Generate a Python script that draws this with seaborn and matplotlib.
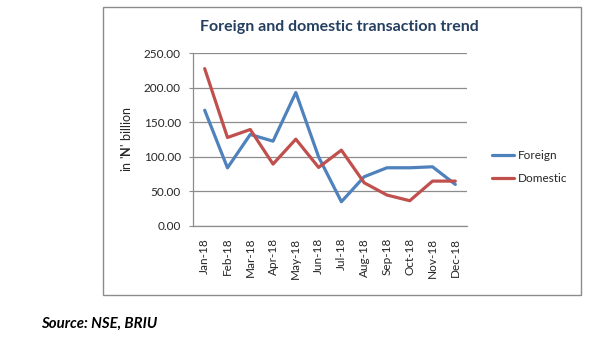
import matplotlib
matplotlib.use("Agg")
import matplotlib.pyplot as plt
import matplotlib.patches as patches
import seaborn as sns
import pandas as pd

months = ['Jan-18', 'Feb-18', 'Mar-18', 'Apr-18', 'May-18', 'Jun-18',
          'Jul-18', 'Aug-18', 'Sep-18', 'Oct-18', 'Nov-18', 'Dec-18']
foreign = [167.6, 84.2, 132.5, 122.8, 193.2, 100.0, 35.1, 71.3, 84.3, 84.3, 85.7, 60.2]
domestic = [227.8, 128.1, 139.7, 89.6, 125.7, 84.8, 109.8, 62.6, 44.8, 36.6, 65.0, 65.0]
series = ['Foreign', 'Domestic']
colors = ['#4F81BD', '#C0504D']
yticks = [0, 50, 100, 150, 200, 250]

sns.set_theme(style="white")
plt.rcParams['font.family'] = ['Lato', 'DejaVu Sans']
plt.rcParams['mathtext.fontset'] = 'custom'
plt.rcParams['mathtext.rm'] = 'Lato'
plt.rcParams['mathtext.bf'] = 'Lato:bold'

df = pd.DataFrame({
    'Month': months * 2,
    'Value': foreign + domestic,
    'Series': [series[0]] * len(months) + [series[1]] * len(months),
})

W, H = 594, 338
fig = plt.figure(figsize=(W / 100, H / 100), dpi=100)
fig.patch.set_facecolor('white')

# outer chart border
fig.patches.append(patches.Rectangle((103 / W, 1 - 295 / H), (581 - 103) / W, (295 - 7) / H,
                                     transform=fig.transFigure, fill=False,
                                     edgecolor='#8C8C8C', linewidth=1.0))

left, right, top, bottom = 193.3, 466.7, 53.3, 226.0
ax = fig.add_axes([left / W, 1 - bottom / H, (right - left) / W, (bottom - top) / H])

sns.lineplot(data=df, x='Month', y='Value', hue='Series', palette=colors,
             linewidth=2.3, ax=ax, sort=False, legend=True)

ax.set_xlim(-0.5, len(months) - 0.5)
ax.set_ylim(0, 250)
ax.set_yticks(yticks)
ax.set_yticklabels([f"{v:.2f}" for v in yticks], fontsize=8.5)
ax.set_xticks(range(len(months)))
ax.set_xticklabels(months, rotation=90, fontsize=8.5)
ax.tick_params(axis='x', length=0, pad=8.5)
ax.tick_params(axis='y', length=3, width=0.8, color='#8C8C8C', pad=6, left=True)
ax.grid(axis='y', color='#8C8C8C', linewidth=0.9)
ax.set_axisbelow(True)
for s in ['top', 'right']:
    ax.spines[s].set_visible(False)
for s in ['left', 'bottom']:
    ax.spines[s].set_color('#8C8C8C')
    ax.spines[s].set_linewidth(0.9)
ax.set_xlabel('')
ax.set_ylabel("in '$\\mathbf{N}$' billion", fontsize=9)
ax.yaxis.set_label_coords(-0.222, 0.5)

handles, labels = ax.get_legend_handles_labels()
leg = ax.legend(handles, labels, loc='center left', bbox_to_anchor=(1.052, 0.342),
                frameon=False, fontsize=8.5, handlelength=1.9, handletextpad=0.35,
                labelspacing=1.05)

fig.text(339.5 / W, 1 - 26.5 / H, 'Foreign and domestic transaction trend',
         ha='center', va='center', fontsize=11.5, fontweight='bold', color='#243F60')
fig.text(41 / W, 1 - 324 / H, 'Source: NSE, BRIU', ha='left', va='center',
         fontsize=10.8, fontweight='bold', fontstyle='italic', color='black')

fig.savefig('out.png', dpi=100)
